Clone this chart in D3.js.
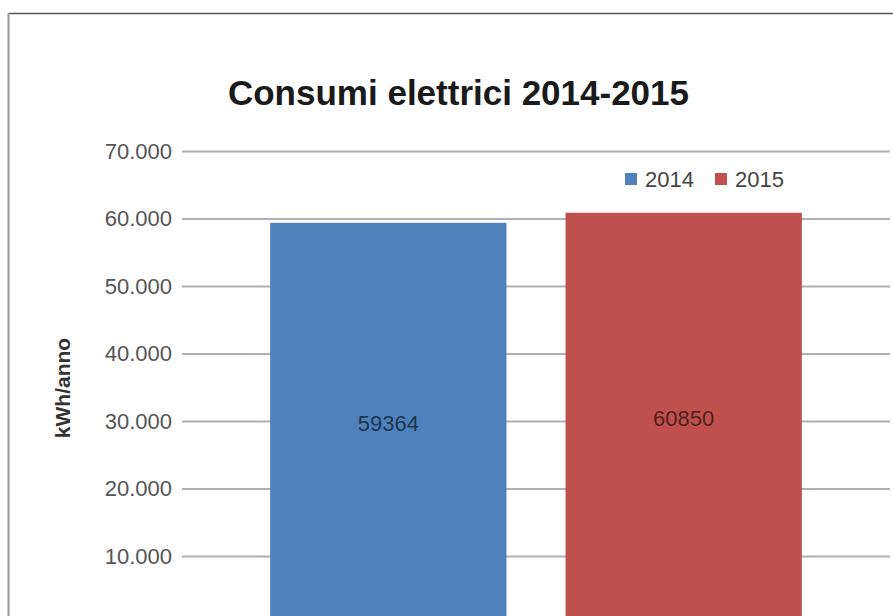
<!DOCTYPE html>
<html>
<head>
<meta charset="utf-8">
<script src="https://cdn.jsdelivr.net/npm/d3@7"></script>
<style>
  html, body { margin: 0; padding: 0; background: #fff; }
  svg { display: block; }
  text { font-family: "Liberation Sans", Arial, sans-serif; }
</style>
</head>
<body>
<script>
// Annual electricity consumption, kWh per year
const categories = ["Totale"];
const seriesNames = ["2014", "2015"];
const seriesValues = [59364, 60850];
const seriesColors = ["#4f81bd", "#c0504d"];
const yTicks = [0, 10000, 20000, 30000, 40000, 50000, 60000, 70000];
const chartTitle = "Consumi elettrici 2014-2015";
const yTitle = "kWh/anno";

const W = 893, H = 616;
const svg = d3.select("body").append("svg").attr("width", W).attr("height", H);

// frame of the chart area
svg.append("line").attr("x1", 8.5).attr("x2", W).attr("y1", 13.5).attr("y2", 13.5)
  .attr("stroke", "#555").attr("stroke-width", 1.5);
svg.append("line").attr("x1", 8.5).attr("x2", 8.5).attr("y1", 13).attr("y2", H)
  .attr("stroke", "#9a9a9a").attr("stroke-width", 2);

const plot = { left: 182, right: 890, top: 151, bottom: 623.5 };

const y = d3.scaleLinear().domain([0, 70000]).range([plot.bottom, plot.top]);
const x0 = d3.scaleBand().domain(categories).range([plot.left, plot.right])
  .paddingInner(0.1422).paddingOuter(0.1422);
const x1 = d3.scaleBand().domain(seriesNames).range([0, x0.bandwidth()])
  .paddingInner(0.2).paddingOuter(0);

const fmt = d => d3.format(",")(d).replace(/,/g, ".");

// gridlines + tick labels via a left axis
const yAxis = d3.axisLeft(y).tickValues(yTicks).tickFormat(fmt)
  .tickSize(-(plot.right - plot.left)).tickPadding(10);
const gy = svg.append("g").attr("transform", `translate(${plot.left},0)`).call(yAxis);
gy.select(".domain").remove();
gy.selectAll(".tick line").attr("stroke", "#b0b0b0").attr("stroke-width", 1.8);
gy.selectAll(".tick text")
  .attr("font-size", 22).attr("fill", "#555")
  .attr("font-family", "'Liberation Sans', Arial, sans-serif");

// bars
const rows = categories.map(c => seriesNames.map((s, i) => ({ cat: c, key: s, value: seriesValues[i], color: seriesColors[i] })));
const groups = svg.selectAll("g.cat").data(rows).join("g").attr("class", "cat")
  .attr("transform", (d, i) => `translate(${x0(categories[i])},0)`);

groups.selectAll("rect").data(d => d).join("rect")
  .attr("x", d => x1(d.key))
  .attr("width", x1.bandwidth())
  .attr("y", d => y(d.value))
  .attr("height", d => y(0) - y(d.value))
  .attr("fill", d => d.color);

// value labels, centred in each bar
groups.selectAll("text.val").data(d => d).join("text").attr("class", "val")
  .attr("x", d => x1(d.key) + x1.bandwidth() / 2)
  .attr("y", d => y(d.value / 2))
  .attr("dy", "0.35em")
  .attr("text-anchor", "middle")
  .attr("font-size", 22)
  .attr("fill", "#000").attr("fill-opacity", 0.62)
  .text(d => d.value);

// title
svg.append("text").attr("x", 458.5).attr("y", 105)
  .attr("text-anchor", "middle").attr("font-size", 35).attr("font-weight", "bold")
  .attr("fill", "#1a1a1a").text(chartTitle);

// y-axis title
svg.append("text").attr("transform", "translate(63,388) rotate(-90)")
  .attr("text-anchor", "middle").attr("dy", "0.35em")
  .attr("font-size", 21).attr("font-weight", "bold").attr("fill", "#333")
  .text(yTitle);

// legend
const legendX = [625, 715];
const lg = svg.append("g").selectAll("g").data(seriesNames).join("g")
  .attr("transform", (d, i) => `translate(${legendX[i]},173)`);
lg.append("rect").attr("width", 12).attr("height", 12)
  .attr("fill", (d, i) => seriesColors[i]);
lg.append("text").attr("x", 20).attr("y", 13.5)
  .attr("font-size", 22).attr("fill", "#444").text(d => d);
</script>
</body>
</html>
